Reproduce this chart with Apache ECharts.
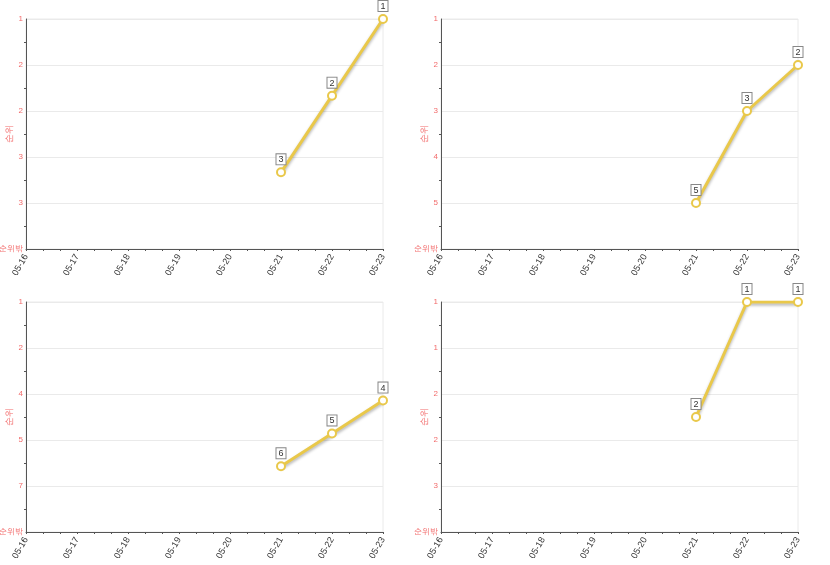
<!DOCTYPE html>
<html><head><meta charset="utf-8">
<script src="https://cdn.jsdelivr.net/npm/echarts@6/dist/echarts.min.js"></script>
<style>html,body{margin:0;padding:0;background:#fff}#c{width:830px;height:565px}</style>
</head><body><div id="c"></div>
<script>
var categories = ['05-16','05-17','05-18','05-19','05-20','05-21','05-22','05-23'];
var chartDates = ['05-21','05-22','05-23'];
var ranks1 = [3, 2, 1];
var ranks2 = [5, 3, 2];
var ranks3 = [6, 5, 4];
var ranks4 = [2, 1, 1];
var allRanks = [ranks1, ranks2, ranks3, ranks4];
var yMaxes = [4, 6, 8, 3];
var outLabel = '순위밖';

var gridPos = [
  {left: 26, top: 19},
  {left: 441, top: 19},
  {left: 26, top: 302},
  {left: 441, top: 302}
];
var red = '#f26b6b';
var grids = [], xAxes = [], yAxes = [], series = [];
allRanks.forEach(function (ranks, i) {
  var maxV = yMaxes[i];
  grids.push({left: gridPos[i].left, top: gridPos[i].top, width: 357, height: 230,
    show: true, borderColor: '#eaeaea', borderWidth: 1, containLabel: false, outerBoundsMode: 'none'});
  xAxes.push({type: 'value', gridIndex: i, min: 0, max: categories.length - 1, interval: 1,
    axisLine: {lineStyle: {color: '#555', width: 1}},
    axisTick: {show: true, length: 2, lineStyle: {color: '#555'}},
    minorTick: {show: true, splitNumber: 3, length: 2, lineStyle: {color: '#555'}},
    splitLine: {show: false},
    axisLabel: {rotate: 60, fontSize: 9, color: '#333', margin: 6,
      formatter: function (v) { return categories[Math.round(v)] || ''; }}
  });
  yAxes.push({type: 'value', gridIndex: i, inverse: true, min: 1, max: maxV, interval: (maxV - 1) / 5,
    name: '순위', nameLocation: 'middle', nameGap: 12, nameMoveOverlap: false,
    nameTextStyle: {color: red, fontSize: 9},
    axisLine: {show: true, lineStyle: {color: '#555', width: 1}},
    axisTick: {show: false},
    minorTick: {show: true, splitNumber: 2, length: 2, lineStyle: {color: '#555'}},
    splitLine: {show: true, lineStyle: {color: '#eaeaea'}},
    axisLabel: {fontSize: 8, color: red, margin: 3,
      formatter: function (v) { return v >= maxV - 1e-6 ? outLabel : String(Math.round(v)); }}
  });
  series.push({type: 'line', xAxisIndex: i, yAxisIndex: i,
    data: ranks.map(function (r, k) { return [categories.indexOf(chartDates[k]), r]; }),
    symbol: 'emptyCircle', symbolSize: 8,
    itemStyle: {color: '#e9c84a', borderColor: '#e9c84a', borderWidth: 1.5},
    lineStyle: {color: '#e9c84a', width: 3, shadowColor: 'rgba(0,0,0,0.3)', shadowBlur: 3, shadowOffsetY: 2},
    label: {show: true, position: 'top', distance: 3, fontSize: 9, color: '#333',
      backgroundColor: '#fff', borderColor: '#888', borderWidth: 1, padding: [1, 2, 0, 2],
      formatter: function (p) { return p.value[1]; }}
  });
});
var chart = echarts.init(document.getElementById('c'));
chart.setOption({animation: false, grid: grids, xAxis: xAxes, yAxis: yAxes, series: series});
</script></body></html>
